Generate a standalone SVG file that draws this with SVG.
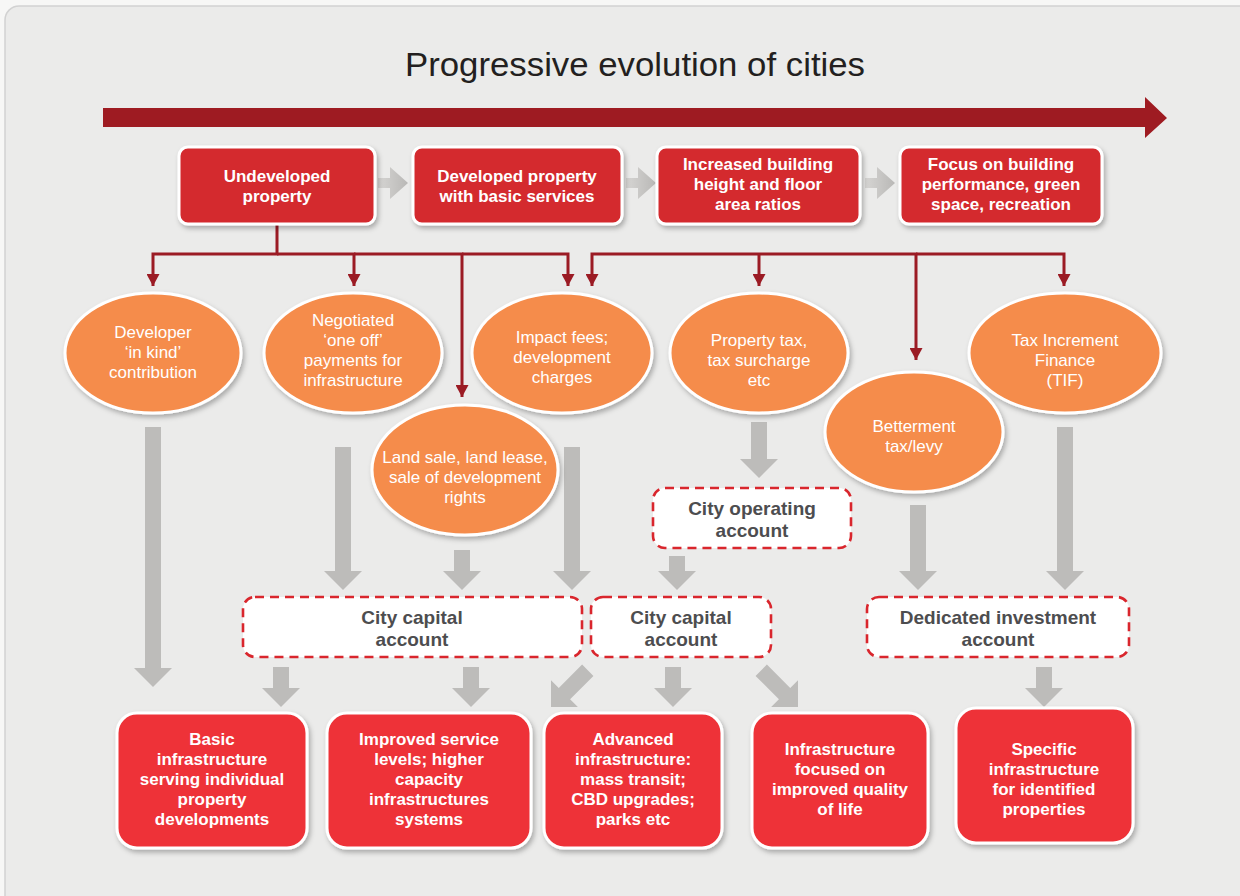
<svg xmlns="http://www.w3.org/2000/svg" width="1240" height="896" viewBox="0 0 1240 896">
<defs>
<filter id="sh" x="-20%" y="-20%" width="140%" height="150%">
<feDropShadow dx="2" dy="3" stdDeviation="2.5" flood-color="#000" flood-opacity="0.28"/>
</filter>
<marker id="ah" markerUnits="userSpaceOnUse" markerWidth="13" markerHeight="13" refX="12" refY="6.5" orient="auto">
<path d="M0,0 L12,6.5 L0,13 Z" fill="#9b1b24"/>
</marker>
<linearGradient id="chev" x1="0" y1="0" x2="1" y2="0">
<stop offset="0" stop-color="#d6d5d3"/>
<stop offset="1" stop-color="#b9b8b6"/>
</linearGradient>
</defs>
<style>
.top{fill:#d42a2f;stroke:#fff;stroke-width:3;filter:url(#sh)}
.bot{fill:#ee3338;stroke:#fff;stroke-width:3;filter:url(#sh)}
.ell{fill:#f58c4b;stroke:#fff;stroke-width:3;filter:url(#sh)}
.dash{fill:#fff;stroke:#d9262d;stroke-width:2.6;stroke-dasharray:9 6}
.tw{font-family:"Liberation Sans",Arial,sans-serif;font-size:17px;font-weight:bold;fill:#fff;text-anchor:middle}
.te{font-family:"Liberation Sans",Arial,sans-serif;font-size:17px;fill:#fff;text-anchor:middle}
.td{font-family:"Liberation Sans",Arial,sans-serif;font-size:19px;font-weight:bold;fill:#4d4d4f;text-anchor:middle}
.ln{fill:none;stroke:#9b1b24;stroke-width:3;marker-end:url(#ah)}
.ga{fill:#bdbcba}
</style>
<rect x="0" y="0" width="1240" height="896" fill="#f7f7f6"/>
<rect x="5" y="6" width="1260" height="910" rx="14" fill="#ebebea" stroke="#d2d2d2" stroke-width="1.5"/>
<text x="635" y="76" font-family="'Liberation Sans',Arial,sans-serif" font-size="33" fill="#231f20" text-anchor="middle" textLength="460" lengthAdjust="spacingAndGlyphs">Progressive evolution of cities</text>
<polygon points="103,108 1145,108 1145,97 1167,118 1145,138 1145,127 103,127" fill="#9e1b22"/>

<g id="connectors">
<path class="ln" d="M277,224 V254 H153 V286"/>
<path class="ln" d="M277,254 H354 V286"/>
<path class="ln" d="M354,254 H462 V397"/>
<path class="ln" d="M462,254 H568 V286"/>
<path class="ln" d="M759,254 H592 V286"/>
<path class="ln" d="M759,254 V286"/>
<path class="ln" d="M759,254 H916 V360"/>
<path class="ln" d="M916,254 H1064 V286"/>
<g fill="url(#chev)">
<path d="M378,178 H390 V167 L408,183 L390,199 V188 H378 Z"/>
<path d="M626,178 H638 V167 L656,183 L638,199 V188 H626 Z"/>
<path d="M865,178 H877 V167 L895,183 L877,199 V188 H865 Z"/>
</g>
<path class="ga" d="M145,427 H161 V668 H172 L153,687 L134,668 H145 Z"/>
<path class="ga" d="M335,447 H351 V571 H362 L343,590 L324,571 H335 Z"/>
<path class="ga" d="M454,550 H470 V571 H481 L462,590 L443,571 H454 Z"/>
<path class="ga" d="M564,447 H580 V571 H591 L572,590 L553,571 H564 Z"/>
<path class="ga" d="M751,422 H767 V459 H778 L759,478 L740,459 H751 Z"/>
<path class="ga" d="M669,556 H685 V571 H696 L677,590 L658,571 H669 Z"/>
<path class="ga" d="M910,505 H926 V571 H937 L918,590 L899,571 H910 Z"/>
<path class="ga" d="M1057,427 H1073 V571 H1084 L1065,590 L1046,571 H1057 Z"/>
<path class="ga" d="M273,667 H289 V688 H300 L281,707 L262,688 H273 Z"/>
<path class="ga" d="M463,667 H479 V688 H490 L471,707 L452,688 H463 Z"/>
<path class="ga" d="M665,667 H681 V688 H692 L673,707 L654,688 H665 Z"/>
<path class="ga" d="M1036,667 H1052 V688 H1063 L1044,707 L1025,688 H1036 Z"/>
<path class="ga" transform="translate(551,707) rotate(45)" d="M-8,-52 H8 V-19 H19 L0,0 L-19,-19 H-8 Z"/>
<path class="ga" transform="translate(798,707) rotate(-45)" d="M-8,-52 H8 V-19 H19 L0,0 L-19,-19 H-8 Z"/>
</g>

<g id="n-undeveloped"><rect class="top" x="179" y="147" width="196" height="77" rx="9"/>
<text class="tw" x="277" y="182">Undeveloped</text><text class="tw" x="277" y="202">property</text></g>
<g id="n-developed"><rect class="top" x="413" y="147" width="209" height="77" rx="9"/>
<text class="tw" x="517" y="182">Developed property</text><text class="tw" x="517" y="202">with basic services</text></g>
<g id="n-increased"><rect class="top" x="657" y="147" width="203" height="77" rx="9"/>
<text class="tw" x="758" y="170">Increased building</text><text class="tw" x="758" y="190">height and floor</text><text class="tw" x="758" y="210">area ratios</text></g>
<g id="n-focus"><rect class="top" x="900" y="147" width="202" height="77" rx="9"/>
<text class="tw" x="1001" y="170">Focus on building</text><text class="tw" x="1001" y="190">performance, green</text><text class="tw" x="1001" y="210">space, recreation</text></g>

<g id="n-developer"><ellipse class="ell" cx="153" cy="353" rx="88" ry="60"/>
<text class="te" x="153" y="338">Developer</text><text class="te" x="153" y="358">‘in kind’</text><text class="te" x="153" y="378">contribution</text></g>
<g id="n-negotiated"><ellipse class="ell" cx="353" cy="353" rx="89" ry="60"/>
<text class="te" x="353" y="326">Negotiated</text><text class="te" x="353" y="346">‘one off’</text><text class="te" x="353" y="366">payments for</text><text class="te" x="353" y="386">infrastructure</text></g>
<g id="n-impact"><ellipse class="ell" cx="562" cy="353" rx="90" ry="60"/>
<text class="te" x="562" y="343">Impact fees;</text><text class="te" x="562" y="363">development</text><text class="te" x="562" y="383">charges</text></g>
<g id="n-landsale"><ellipse class="ell" cx="465" cy="470" rx="93" ry="65"/>
<text class="te" x="465" y="463">Land sale, land lease,</text><text class="te" x="465" y="483">sale of development</text><text class="te" x="465" y="503">rights</text></g>
<g id="n-propertytax"><ellipse class="ell" cx="759" cy="353" rx="89" ry="60"/>
<text class="te" x="759" y="346">Property tax,</text><text class="te" x="759" y="366">tax surcharge</text><text class="te" x="759" y="386">etc</text></g>
<g id="n-betterment"><ellipse class="ell" cx="914" cy="432" rx="89" ry="60"/>
<text class="te" x="914" y="432">Betterment</text><text class="te" x="914" y="452">tax/levy</text></g>
<g id="n-tif"><ellipse class="ell" cx="1065" cy="353" rx="96" ry="60"/>
<text class="te" x="1065" y="346">Tax Increment</text><text class="te" x="1065" y="366">Finance</text><text class="te" x="1065" y="386">(TIF)</text></g>

<g id="n-operating"><rect class="dash" x="653" y="488" width="198" height="60" rx="12"/>
<text class="td" x="752" y="515">City operating</text><text class="td" x="752" y="537">account</text></g>
<g id="n-capital1"><rect class="dash" x="243" y="597" width="339" height="60" rx="12"/>
<text class="td" x="412" y="624">City capital</text><text class="td" x="412" y="646">account</text></g>
<g id="n-capital2"><rect class="dash" x="591" y="597" width="180" height="60" rx="12"/>
<text class="td" x="681" y="624">City capital</text><text class="td" x="681" y="646">account</text></g>
<g id="n-dedicated"><rect class="dash" x="867" y="597" width="262" height="60" rx="12"/>
<text class="td" x="998" y="624">Dedicated investment</text><text class="td" x="998" y="646">account</text></g>

<g id="n-basic"><rect class="bot" x="117" y="713" width="190" height="135" rx="20"/>
<text class="tw" x="212" y="745">Basic</text><text class="tw" x="212" y="765">infrastructure</text><text class="tw" x="212" y="785">serving individual</text><text class="tw" x="212" y="805">property</text><text class="tw" x="212" y="825">developments</text></g>
<g id="n-improved"><rect class="bot" x="327" y="713" width="204" height="135" rx="20"/>
<text class="tw" x="429" y="745">Improved service</text><text class="tw" x="429" y="765">levels; higher</text><text class="tw" x="429" y="785">capacity</text><text class="tw" x="429" y="805">infrastructures</text><text class="tw" x="429" y="825">systems</text></g>
<g id="n-advanced"><rect class="bot" x="544" y="713" width="178" height="135" rx="20"/>
<text class="tw" x="633" y="745">Advanced</text><text class="tw" x="633" y="765">infrastructure:</text><text class="tw" x="633" y="785">mass transit;</text><text class="tw" x="633" y="805">CBD upgrades;</text><text class="tw" x="633" y="825">parks etc</text></g>
<g id="n-quality"><rect class="bot" x="752" y="713" width="176" height="135" rx="20"/>
<text class="tw" x="840" y="755">Infrastructure</text><text class="tw" x="840" y="775">focused on</text><text class="tw" x="840" y="795">improved quality</text><text class="tw" x="840" y="815">of life</text></g>
<g id="n-specific"><rect class="bot" x="956" y="708" width="177" height="135" rx="20"/>
<text class="tw" x="1044" y="755">Specific</text><text class="tw" x="1044" y="775">infrastructure</text><text class="tw" x="1044" y="795">for identified</text><text class="tw" x="1044" y="815">properties</text></g>
</svg>
